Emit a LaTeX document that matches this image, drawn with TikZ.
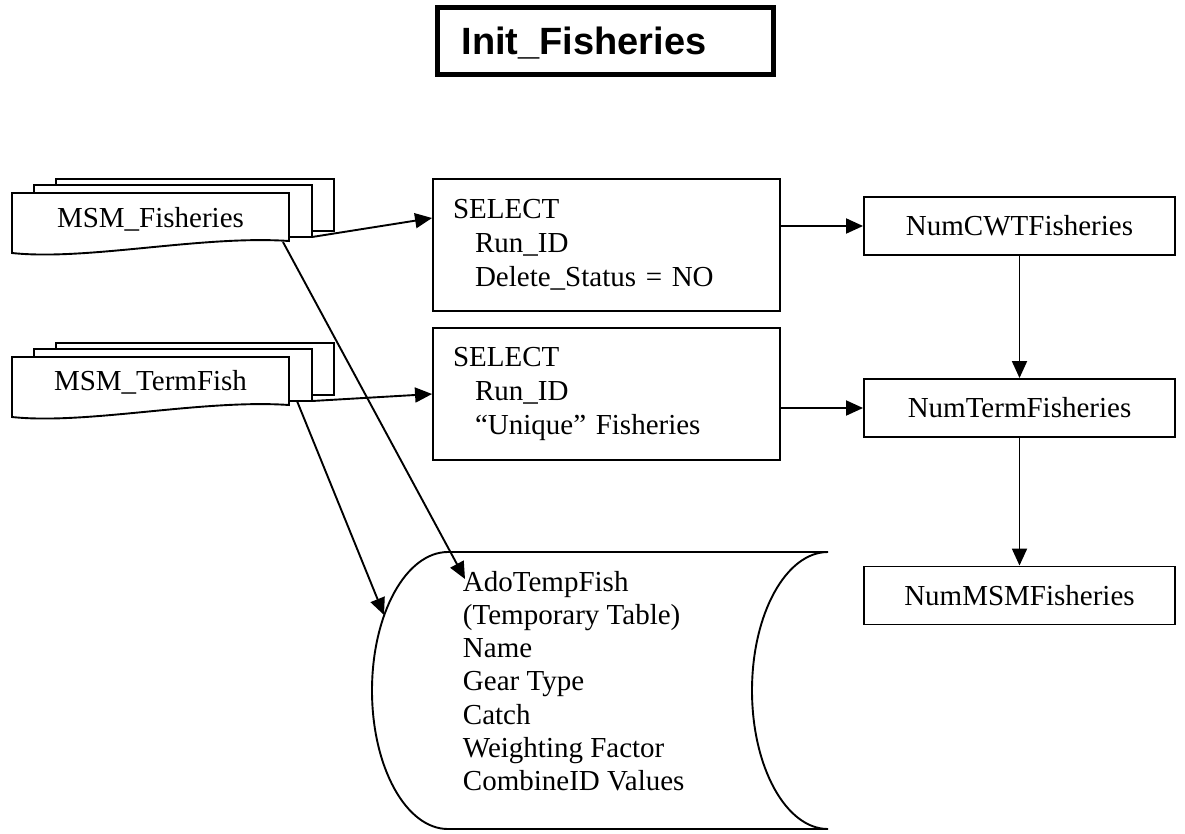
\documentclass[tikz,border=0pt]{standalone}
\usepackage{fontspec}
\setmainfont{Liberation Serif}
\newfontfamily\titlefont{Liberation Sans}
\usetikzlibrary{arrows.meta}
\begin{document}
\begin{tikzpicture}[x=1pt,y=-1pt,
  line width=1.9pt,
  every node/.style={font=\fontsize{29}{34}\selectfont, inner sep=0pt},
  box/.style={draw, rectangle, minimum width=311pt, minimum height=58pt},
  query/.style={draw, rectangle, align=left, text width=307pt, inner xsep=20pt, minimum height=132pt},
  flow/.style={-{Triangle[length=17pt,width=15pt]}},
  % stacked "multiple documents" symbol, origin at the front sheet's top-left corner
  multidoc/.pic={
    \draw[fill=white] (44,-14) rectangle (322,38);
    \draw[fill=white] (22,-8) rectangle (300,44);
    \draw[fill=white] (0,0) -- (277,0) -- (277,48)
       .. controls (190,42) and (75,68) .. (0,60) -- cycle;
    \coordinate (-out) at (300,44);
    \coordinate (-foota) at (271,49);
    \coordinate (-footb) at (285,44);
  }]
\useasboundingbox (0,0) rectangle (1185,833);

% title
\node[draw, line width=5pt, align=left, text width=288pt, inner xsep=24pt,
      minimum height=67pt, text height=27pt, text depth=0pt,
      font=\titlefont\bfseries\fontsize{38}{40}\selectfont] (title) at (605.5,41) {Init\_Fisheries};

% source tables
\pic (fish) at (12,193) {multidoc};
\pic (term) at (12,357) {multidoc};
\node[anchor=base] (fishlbl) at (150.5,227) {MSM\_Fisheries};
\node[anchor=base] (termlbl) at (150.5,390) {MSM\_TermFish};

% queries
\node[query] (sel1) at (606.5,245) {SELECT\\\hspace*{22pt}Run\_ID\\\hspace*{22pt}Delete\_Status = NO};
\node[query] (sel2) at (606.5,394) {SELECT\\\hspace*{22pt}Run\_ID\\\hspace*{22pt}“Unique” Fisheries};

% counters
\node[box] (cwt) at (1019.5,226) {NumCWTFisheries};
\node[box] (nterm) at (1019.5,408) {NumTermFisheries};
\node[box] (nmsm) at (1019.5,595.5) {NumMSMFisheries};

% temporary table (stored data symbol)
\draw (448,552) -- (828,552)
  .. controls (786,552) and (752,614) .. (752,690.5)
  .. controls (752,767) and (786,829) .. (828,829)
  -- (448,829)
  .. controls (406,829) and (372,767) .. (372,690.5)
  .. controls (372,614) and (406,552) .. (448,552) -- cycle;
\coordinate (store-in) at (384,615);
\node[anchor=north west, align=left, font=\fontsize{29}{33.3}\selectfont] (ado) at (462,570)
  {AdoTempFish\\(Temporary Table)\\Name\\Gear Type\\Catch\\Weighting Factor\\CombineID Values};

% connectors
\draw[flow] (fish-out) -- ([yshift=27pt]sel1.west);
\draw[flow] (term-out) -- (sel2.west);
\draw[flow] (sel1.east |- cwt.west) -- (cwt.west);
\draw[flow] (sel2.east |- nterm.west) -- (nterm.west);
\draw[flow] (cwt.south) -- (nterm.north);
\draw[flow] (nterm.south) -- (nmsm.north);
\draw[flow] (fish-foota) -- ([xshift=3pt,yshift=-9pt]ado.north west);
\draw[flow] (term-footb) -- (store-in);
\end{tikzpicture}
\end{document}
